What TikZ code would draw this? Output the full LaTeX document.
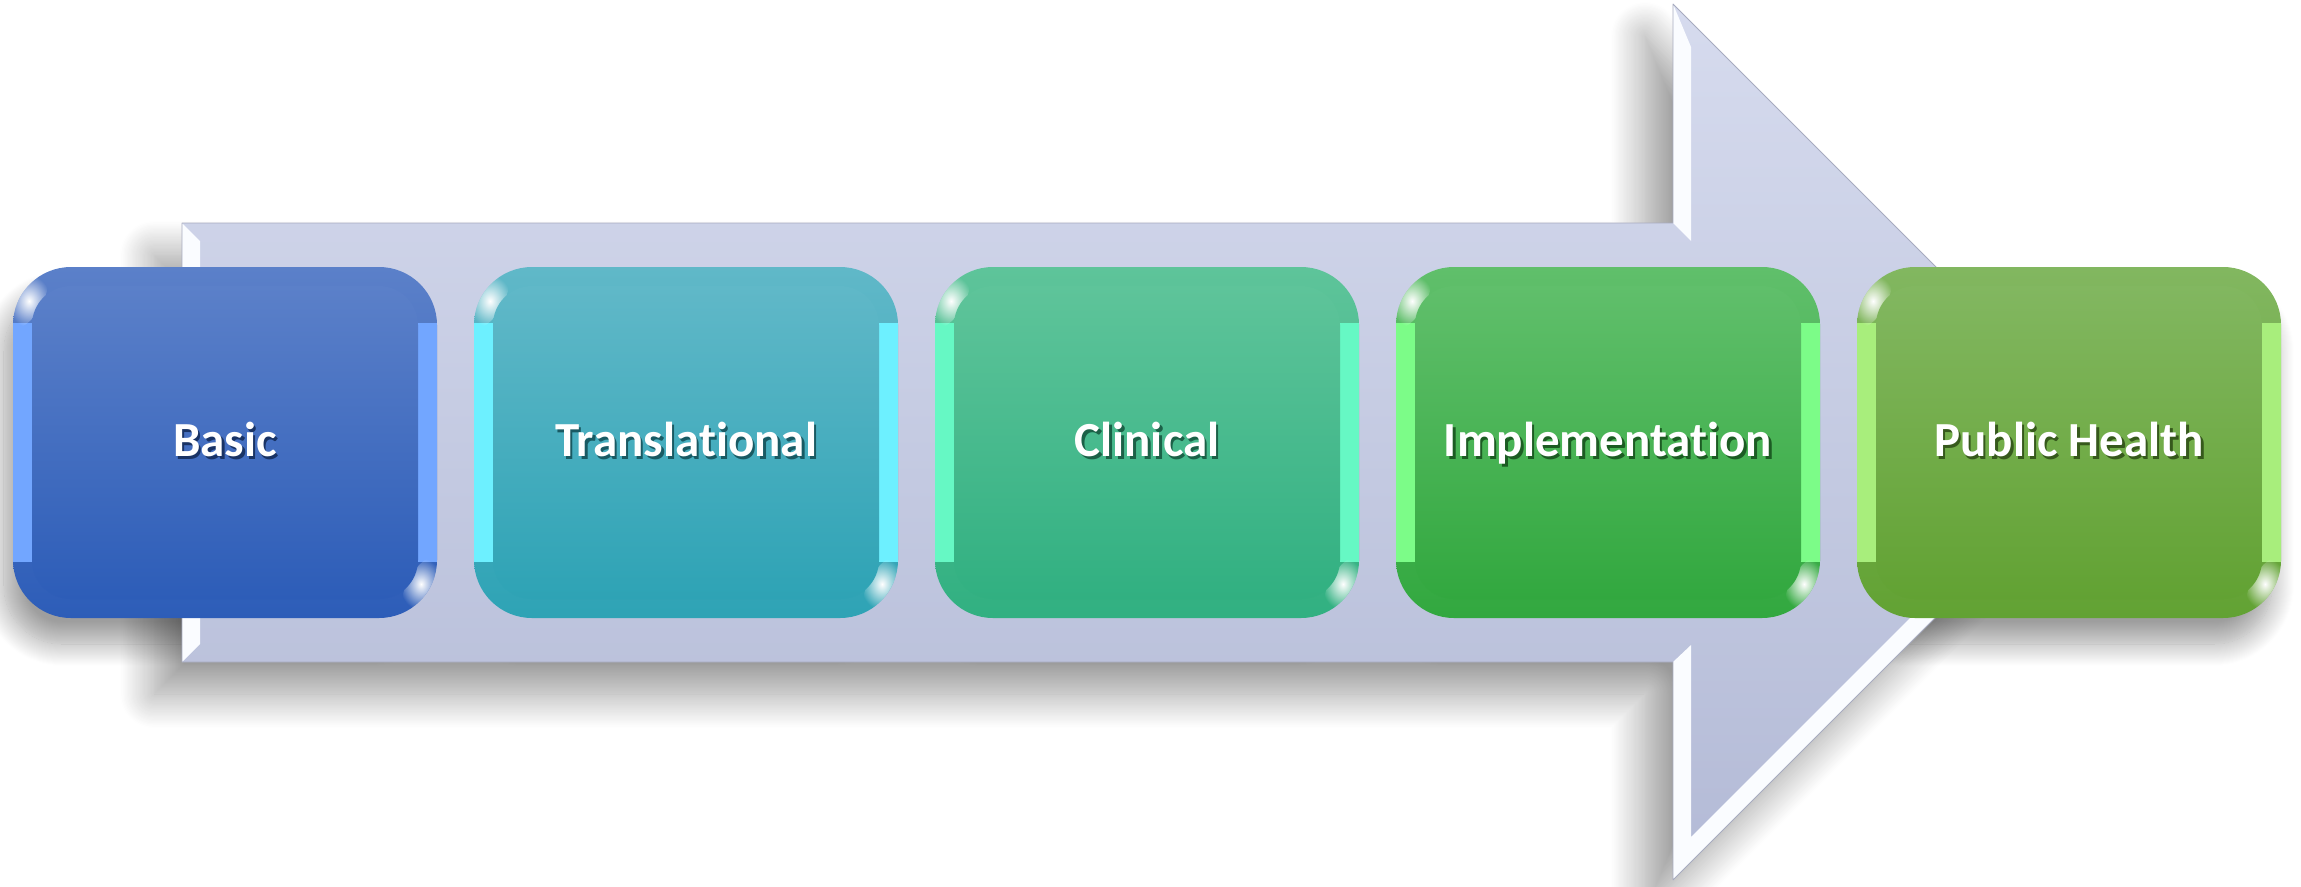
\documentclass[tikz,border=0pt]{standalone}
\usepackage{fontspec}
\setmainfont{Carlito}[Ligatures={NoCommon,NoRequired,NoContextual,NoRare}, Contextuals=NoAlternate]
\usetikzlibrary{calc,fadings,shadows.blur}

\definecolor{arrowTop}{HTML}{D6DBEE}
\definecolor{arrowBot}{HTML}{B3BAD6}
\definecolor{arrowLine}{HTML}{A7ABBF}
\definecolor{arrowEdge}{HTML}{FAFCFF}

\definecolor{basicTop}{HTML}{5B80C9}
\definecolor{basicBot}{HTML}{2D5DB8}
\definecolor{basicEdge}{HTML}{72A6FF}
\definecolor{translTop}{HTML}{60B8C8}
\definecolor{translBot}{HTML}{2EA3B5}
\definecolor{translEdge}{HTML}{6DF0FF}
\definecolor{clinTop}{HTML}{5EC49A}
\definecolor{clinBot}{HTML}{31B081}
\definecolor{clinEdge}{HTML}{66F8C4}
\definecolor{implTop}{HTML}{60BF6B}
\definecolor{implBot}{HTML}{32A83F}
\definecolor{implEdge}{HTML}{7CFC88}
\definecolor{pubhTop}{HTML}{82B760}
\definecolor{pubhBot}{HTML}{62A233}
\definecolor{pubhEdge}{HTML}{A8EE7C}

\tikzfading[name=glint, inner color=transparent!0, outer color=transparent!100]

\newcommand{\stagefont}{\fontsize{49pt}{58pt}\selectfont\bfseries}
\newcommand{\shadowed}[1]{\rlap{\kern2.5pt\raisebox{-2.5pt}{\textcolor{\shadowcol!55!black}{#1}}}#1}

\tikzset{
  boxshadow/.style={blur shadow={shadow xshift=-9pt, shadow yshift=-26pt,
      shadow blur radius=22pt, shadow blur steps=24, shadow opacity=38}},
  stage/.style={rounded corners=58pt, minimum width=424pt, minimum height=351pt,
    inner sep=0pt, text height=34pt, text depth=6pt,
    top color=#1Top, bottom color=#1Bot, text=white, font=\stagefont,
    execute at begin node={\def\shadowcol{#1Bot}},
    path picture={
      \coordinate (nw) at (path picture bounding box.north west);
      \coordinate (se) at (path picture bounding box.south east);
      % light side bevels
      \fill[#1Edge, sharp corners] ([yshift=-56pt]nw) rectangle ([xshift=19pt, yshift=56pt]nw |- se);
      \fill[#1Edge, sharp corners] ([xshift=-19pt, yshift=-56pt]se |- nw) rectangle ([yshift=56pt]se);
      % glints on two corners
      \fill[white, path fading=glint] ([shift={(16pt,-34pt)}]nw)
        ellipse [x radius=30pt, y radius=13pt, rotate=60];
      \fill[white, path fading=glint] ([shift={(-16pt,34pt)}]se)
        ellipse [x radius=30pt, y radius=13pt, rotate=60];
      % inner face
      \shade[top color=#1Top, bottom color=#1Bot, rounded corners=39pt]
        ([shift={(19pt,-19pt)}]nw) rectangle ([shift={(-19pt,19pt)}]se);
    }},
}

\begin{document}
\begin{tikzpicture}[line join=round, x=1pt, y=-1pt]
\useasboundingbox (0,0) rectangle (2301,886);

% box shadows lie under the arrow
\foreach \i in {0,...,4}
  \path[boxshadow, rounded corners=58pt] (13+461*\i,267) rectangle ++(424,351);

\coordinate (S1) at (182,223);
\coordinate (S2) at (1673,223);
\coordinate (H1) at (1673,4);
\coordinate (T) at (2111,442);
\coordinate (H2) at (1673,880);
\coordinate (S3) at (1673,662);
\coordinate (S4) at (182,662);

% arrow body
\shade[top color=arrowTop, bottom color=arrowBot,
  blur shadow={shadow xshift=-28pt, shadow yshift=-32pt, shadow blur radius=34pt,
    shadow blur steps=30, shadow opacity=40}]
  (S1) -- (S2) -- (H1) -- (T) -- (H2) -- (S3) -- (S4) -- cycle;

% white bevels
\fill[arrowEdge] (S1) -- ++(18,18) -- ($(S4)+(18,-18)$) -- (S4) -- cycle;
\fill[arrowEdge] (H1) -- ++(18,43) -- ($(S2)+(18,18)$) -- (S2) -- cycle;
\fill[arrowEdge] (S3) -- ++(18,-17) -- (1691,837) -- (2086,442) -- (T) -- (H2) -- cycle;

\draw[arrowLine, line width=0.8pt] (S1) -- (S2) -- (H1) -- (T) -- (H2) -- (S3) -- (S4) -- cycle;

% stages
\node[stage=basic] (basic) at (225,442.5) {\shadowed{Basic}};
\node[stage=transl] (transl) at (686,442.5) {\shadowed{Translational}};
\node[stage=clin] (clin) at (1147,442.5) {\shadowed{Clinical}};
\node[stage=impl] (impl) at (1608,442.5) {\shadowed{Implementation}};
\node[stage=pubh] (pubh) at (2069,442.5) {\shadowed{Public Health}};
\end{tikzpicture}
\end{document}
